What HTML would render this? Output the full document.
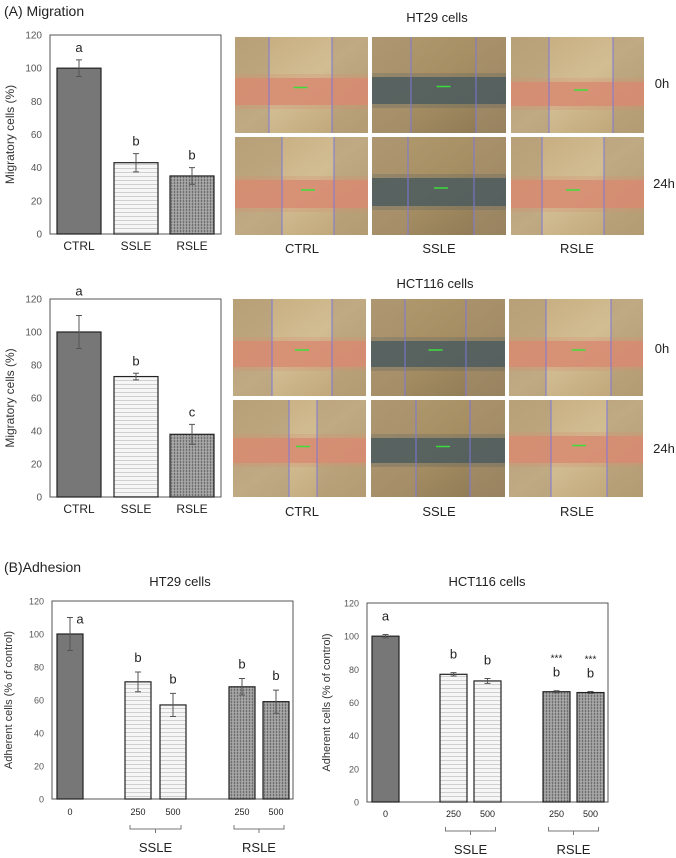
<!DOCTYPE html>
<html><head><meta charset="utf-8"><style>
html,body{margin:0;padding:0;background:#fff;}
svg{display:block;font-family:"Liberation Sans",Arial,sans-serif;}
</style></head><body>
<svg id="fig" width="676" height="858" viewBox="0 0 676 858">
<defs>
<pattern id="pSS" width="4" height="4" patternUnits="userSpaceOnUse"><rect width="4" height="4" fill="#f6f6f6"/><path d="M0 1 L1 0 L2 1 L3 0 L4 1" stroke="#a8a8a8" stroke-width="0.5" fill="none"/></pattern>
<pattern id="pRS" width="3" height="3" patternUnits="userSpaceOnUse"><rect width="3" height="3" fill="#9c9c9c"/><rect x="0" width="1" height="3" fill="#6e6e6e"/><rect y="1" width="3" height="0.6" fill="#b0b0b0"/></pattern>
<linearGradient id="gTan" x1="0" y1="0" x2="1" y2="1"><stop offset="0" stop-color="#c4aa7c"/><stop offset="0.5" stop-color="#d2bd92"/><stop offset="1" stop-color="#bba173"/></linearGradient>
<linearGradient id="gDark" x1="0" y1="0" x2="1" y2="1"><stop offset="0" stop-color="#b39b70"/><stop offset="0.5" stop-color="#a68e63"/><stop offset="1" stop-color="#8a7653"/></linearGradient>
</defs>
<text x="4" y="16" font-size="14" fill="#222">(A) Migration</text>
<text x="4" y="572" font-size="14" fill="#222">(B)Adhesion</text>
<g id="content"></g>
</svg>
<script>
// ---- data ----
const migCats = ["CTRL", "SSLE", "RSLE"];
const migHT29 = [100, 43, 35];
const migHT29Err = [5, 5.5, 5];
const migHT29Sig = ["a", "b", "b"];
const migHCT = [100, 73, 38];
const migHCTErr = [10, 2, 6];
const migHCTSig = ["a", "b", "c"];
const migTicks = [0, 20, 40, 60, 80, 100, 120];

const adhCats = ["0", "250", "500", "250", "500"];
const adhHT29 = [100, 71, 57, 68, 59];
const adhHT29Err = [10, 6, 7, 5, 7];
const adhHT29Sig = ["a", "b", "b", "b", "b"];
const adhHCT = [100, 77, 73, 66.5, 66];
const adhHCTErr = [1, 1, 1.5, 0.6, 0.6];
const adhHCTSig = ["a", "b", "b", "b", "b"];
const adhHCTStar = ["", "", "", "***", "***"];
const adhTicks = [0, 20, 40, 60, 80, 100, 120];

const NS = "http://www.w3.org/2000/svg";
const root = document.getElementById("content");
function el(tag, attrs, parent, txt) {
  const e = document.createElementNS(NS, tag);
  for (const k in attrs) e.setAttribute(k, attrs[k]);
  if (txt !== undefined) e.textContent = txt;
  (parent || root).appendChild(e);
  return e;
}
const fills = { CTRL: "#777", SSLE: "url(#pSS)", RSLE: "url(#pRS)" };

function chart(o) {
  const g = el("g", {});
  
  
  const y = v => o.y1 - (v / 120) * (o.y1 - o.y0);
  const box = el("rect", { x: o.x0, y: o.y0, width: o.x1 - o.x0, height: o.y1 - o.y0, fill: "none", stroke: "#555", "stroke-width": 1 }, g);
  
  
  o.ticks.forEach(t => {
    const tt = el("text", { x: o.x0 - 8, y: y(t) + 3.5, "font-size": o.tickFs, fill: "#555", "text-anchor": "end" }, g, t);
    
    
  });
  const yl = el("text", { x: o.ylx, y: (o.y0 + o.y1) / 2, "font-size": o.ylFs, fill: "#333", "text-anchor": "middle", transform: `rotate(-90 ${o.ylx} ${(o.y0 + o.y1) / 2})` }, g, o.ylabel);
  
  
  o.vals.forEach((v, i) => {
    const bx = o.bx[i], bw = o.bw;
    const r = el("rect", { x: bx, y: y(v), width: bw, height: y(0) - y(v), fill: o.fill[i], stroke: "#222", "stroke-width": 1.2 }, g);
    
    
    const cx = bx + bw / 2, e = o.err[i];
    const eb = el("path", { d: `M${cx} ${y(v + e)}V${y(v - e)}M${cx - 3} ${y(v + e)}H${cx + 3}M${cx - 3} ${y(v - e)}H${cx + 3}`, stroke: "#555", "stroke-width": 1, fill: "none" }, g);
    
    
    const dy = o.sigDy ? o.sigDy[i] : 0;
    const sl = el("text", { x: cx + (o.sigDx ? o.sigDx[i] : 0), y: y(v + e) - o.sigGap + dy, "font-size": 13, fill: "#222", "text-anchor": "middle" }, g, o.sig[i]);
    
    
    if (o.star && o.star[i]) {
      const st = el("text", { x: cx, y: y(v + e) - o.sigGap - 15, "font-size": 10, fill: "#222", "text-anchor": "middle" }, g, o.star[i]);
      
      
    }
    const xl = el("text", { x: cx, y: o.xly, "font-size": o.xFs, fill: "#222", "text-anchor": "middle" }, g, o.cats[i]);
    
    
  });
  if (o.groups) {
    o.groups.forEach(gr => {
      const a = o.bx[gr.from] + o.bw / 2 - 8, b = o.bx[gr.to] + o.bw / 2 + 8, m = (a + b) / 2, by = o.xly + 10;
      const br = el("path", { d: `M${a} ${by}V${by + 4}H${b}V${by}M${m} ${by + 4}V${by + 8}`, stroke: "#777", fill: "none", "stroke-width": 1 }, g);
      
      
      const gl = el("text", { x: m, y: by + 27, "font-size": 13, fill: "#222", "text-anchor": "middle" }, g, gr.label);
      
      
    });
  }
}

// Migration charts
chart({ name: "migration-ht29-chart", x0: 50, x1: 221, y0: 35, y1: 234, ticks: migTicks, tickFs: 10, ylabel: "Migratory cells (%)", ylx: 14, ylFs: 12,
  vals: migHT29, err: migHT29Err, sig: migHT29Sig, cats: migCats, bx: [57, 114, 170], bw: 44, fill: [fills.CTRL, fills.SSLE, fills.RSLE], sigGap: 8, xly: 250, xFs: 12 });
chart({ name: "migration-hct116-chart", x0: 50, x1: 221, y0: 299, y1: 497, ticks: migTicks, tickFs: 10, ylabel: "Migratory cells (%)", ylx: 14, ylFs: 12,
  vals: migHCT, err: migHCTErr, sig: migHCTSig, cats: migCats, bx: [57, 114, 170], bw: 44, fill: [fills.CTRL, fills.SSLE, fills.RSLE], sigGap: 8, sigDy: [-12, 0, 0], xly: 513, xFs: 12 });
// Adhesion charts
chart({ name: "adhesion-ht29-chart", x0: 52, x1: 293, y0: 601, y1: 799, ticks: adhTicks, tickFs: 9, ylabel: "Adherent cells (% of control)", ylx: 12, ylFs: 11,
  vals: adhHT29, err: adhHT29Err, sig: adhHT29Sig, cats: adhCats, bx: [57, 125, 160, 229, 263], bw: 26, fill: [fills.CTRL, fills.SSLE, fills.SSLE, fills.RSLE, fills.RSLE], sigGap: 10, sigDx: [10, 0, 0, 0, 0], sigDy: [16, 0, 0, 0, 0], xly: 815, xFs: 9,
  groups: [{ from: 1, to: 2, label: "SSLE" }, { from: 3, to: 4, label: "RSLE" }] });
chart({ name: "adhesion-hct116-chart", x0: 367, x1: 608, y0: 603, y1: 802, ticks: adhTicks, tickFs: 9, ylabel: "Adherent cells (% of control)", ylx: 330, ylFs: 11,
  vals: adhHCT, err: adhHCTErr, sig: adhHCTSig, star: adhHCTStar, cats: adhCats, bx: [372, 440, 474, 543, 577], bw: 27, fill: [fills.CTRL, fills.SSLE, fills.SSLE, fills.RSLE, fills.RSLE], sigGap: 14, xly: 817, xFs: 9,
  groups: [{ from: 1, to: 2, label: "SSLE" }, { from: 3, to: 4, label: "RSLE" }] });

function title(x, y, t, fs) {
  const e = el("text", { x: x, y: y, "font-size": fs, fill: "#222", "text-anchor": "middle" }, root, t);
  
  
}
title(437, 22, "HT29 cells", 13);
title(435, 288, "HCT116 cells", 13);
title(180, 586, "HT29 cells", 13);
title(487, 586, "HCT116 cells", 13);

// Microscopy images
function micro(x, y, w, h, band, dark, bandY, bandH, lx1, lx2) {
  const g = el("g", {});
  
  
  el("rect", { x: x, y: y, width: w, height: h, fill: dark ? "url(#gDark)" : "url(#gTan)" }, g);
  el("rect", { x: x, y: y, width: lx1 - x, height: h, fill: "#a89370", opacity: 0.45 }, g);
  el("rect", { x: lx2, y: y, width: x + w - lx2, height: h, fill: "#a89370", opacity: 0.45 }, g);
  el("rect", { x: x, y: bandY - 4, width: w, height: bandH + 8, fill: band, opacity: 0.25 }, g);
  el("rect", { x: x, y: bandY, width: w, height: bandH, fill: band, opacity: 0.8 }, g);
  el("line", { x1: lx1, y1: y, x2: lx1, y2: y + h, stroke: "#7b78d8", "stroke-width": 1 }, g);
  el("line", { x1: lx2, y1: y, x2: lx2, y2: y + h, stroke: "#7b78d8", "stroke-width": 1 }, g);
  el("line", { x1: (lx1 + lx2) / 2 - 7, y1: bandY + bandH / 2 - 4, x2: (lx1 + lx2) / 2 + 7, y2: bandY + bandH / 2 - 4, stroke: "#3ddc3d", "stroke-width": 1.5 }, g);
}
const red = "#d88a70", blue = "#4a5a5e";
micro(235, 37, 133, 96, red, false, 78, 27, 269, 332);
micro(372, 37, 134, 96, blue, true, 77, 27, 411, 476);
micro(511, 37, 133, 96, red, false, 82, 24, 549, 613);
micro(235, 137, 133, 98, red, false, 180, 28, 282, 334);
micro(372, 137, 134, 98, blue, true, 178, 28, 408, 474);
micro(511, 137, 133, 98, red, false, 180, 28, 542, 604);
micro(233, 299, 133, 97, red, false, 341, 26, 272, 332);
micro(371, 299, 134, 97, blue, true, 341, 26, 405, 466);
micro(509, 299, 134, 97, red, false, 341, 26, 546, 611);
micro(233, 400, 133, 97, red, false, 438, 25, 289, 317);
micro(371, 400, 134, 97, blue, true, 438, 25, 416, 470);
micro(509, 400, 134, 97, red, false, 436, 27, 551, 607);

function lab(x, y, t) {
  const e = el("text", { x: x, y: y, "font-size": 13, fill: "#222", "text-anchor": "middle" }, root, t);
  
  
}
[["CTRL", 302], ["SSLE", 439], ["RSLE", 577]].forEach(p => { lab(p[1], 253, p[0]); lab(p[1], 516, p[0]); });
lab(662, 88, "0h"); lab(664, 188, "24h"); lab(662, 353, "0h"); lab(664, 453, "24h");
</script>
</body></html>
